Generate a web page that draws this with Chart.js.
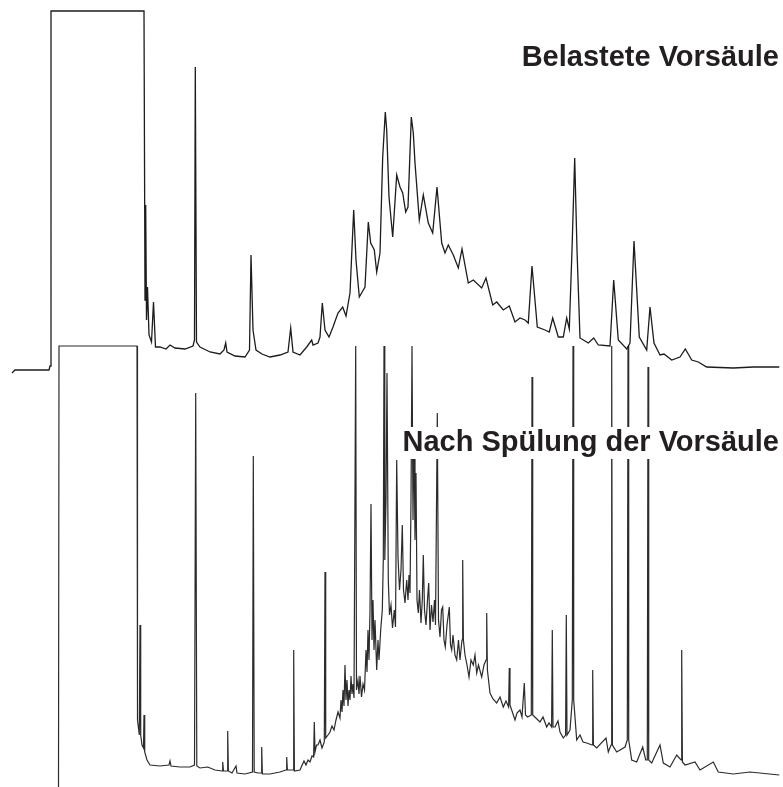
<!DOCTYPE html>
<html>
<head>
<meta charset="utf-8">
<script src="https://cdn.jsdelivr.net/npm/chart.js@4/dist/chart.umd.min.js"></script>
<style>
  html, body { margin: 0; padding: 0; background: #ffffff; }
  #wrap { width: 783px; height: 787px; }
</style>
</head>
<body>
<div id="wrap"><canvas id="c" width="783" height="787"></canvas></div>
<script>
// Retention time (arbitrary units) and detector response (arbitrary units)
const topTime = [12,15,49,50,51,144,145,145.7,146.5,147.5,149,151.5,153.5,155.5,160,166,170,175,185,193,194.5,195.3,196.5,200,210,220,224,225.7,227,235,245,249.5,251,253,256,262,270,280,288,290.7,293,300,306.7,311.7,313,318,320,322.3,325,329,333,338,342.7,346,350,353.7,356,359.3,365,368.3,370.7,374.3,376.7,380,382.7,385.3,386.7,389,392.7,396.7,400,402.7,405.7,408,411.3,413.3,415,419.3,423.3,428.3,432.7,437,441.7,445,448.3,453.3,458.3,462,468.3,473.3,481.7,486,492.7,496.7,503.3,509.3,515,520,525,528.3,532,537.3,545,549.3,552.7,558.3,563.3,566.7,569.3,572,574.7,577,580,588.3,593.7,598.3,610,613.7,618.3,626.7,630,634,639.3,646.7,650,654,660,664,671.7,680,685.3,691.7,698.3,706.7,733.3,753.3,779.3];
const topSignal = [414,417,417,421,776,776,487,582,467,500,452,445,485,440,440,438,442,439,438,441,447,720,445,440,435,433,437,444,435,431,430,437,532,457,437,433,430,432,435,459,435,432,440,447,442,444,450,484,457,450,460,474,480,471,494,577,527,490,500,565,544,537,515,534,630,675,657,590,550,612,600,594,575,580,670,654,624,567,592,564,554,600,544,534,542,532,519,538,504,507,499,509,482,485,477,481,465,469,467,464,521,460,457,455,469,450,450,469,458,537,629,537,449,444,449,442,441,507,447,438,444,546,450,437,480,444,432,433,427,430,438,427,425,420,419,420,420];

const bottomTime = [
  58.5,59,137,137.5,139.3,140,140.7,142,143.5,144,144.7,147,150,160,169,170,171,180,190,194.5,
  195.7,196.8,200,207.7,215,222,222.7,223.5,227,227.7,228.4,232,236,237,245,252.5,253.3,254.2,258,261,
  261.7,262.4,270,280,286,286.7,287.4,293,293.7,294.4,300,304,306,308,310,312,313.6,314.3,315,316.5,
  318,320,322,324.3,325,325.7,328,330,332,334,336,338,340,341,342,343,344,345,346,347,
  348,349,350,351,352,353,354,355.7,356.5,358,359,360,361.5,363,364.5,366,367,368,369,370,
  371,372,373,374,375,376.7,378,379,380.7,382.3,383.3,384,384.8,386,387,388.3,389.5,391,392.5,394.3,
  395.5,396.7,398,399.5,401,402.3,403.5,405,406.7,408,409,410,411,412,413,414,415,416,417,418.3,
  419.5,421,422.3,423.3,424.5,426,427.5,428.7,430,431.5,433,434.5,435.5,437.3,438.5,440,441.5,442.7,444,445.3,
  447,449.3,450.5,451.7,453,455,456.7,458.5,460,462,462.7,463.4,465,467,469,471,473.3,475,476.7,478.5,
  481.7,484,486,486.7,487.4,490,493,496.7,500,503.3,506,508.6,509.3,510,512,515,517,520,522,524.3,
  525.5,527.7,531.3,532,532.7,540,543,546.7,549,551.6,552.3,553,555,558,560,563.3,565.6,566.3,567,570,
  572.3,573,573.7,576.7,580,583,586.7,592,592.7,593.4,596.7,606,608.3,611,611.7,612.4,616.7,625,627.3,628,
  628.7,631.7,636.7,642.7,645.7,647.3,648,648.7,651.7,660,663.3,670,676.7,681,681.7,682.4,685,695,700,713.3,
  718.3,733.3,750,779.3];
const bottomSignal = [
  0,441,441,67,52,162,52,42,39,72,35,27,22,21,22,26,21,20,20,22,
  394,21,19,20,17,16,25,16,16,56,16,14,21,14,13,15,331,15,14,14,
  40,13,13,15,17,30,17,17,137,16,17,26,22,27,25,31,30,65,35,42,
  42,47,39,45,215,49,52,55,61,57,67,75,69,87,75,97,81,122,87,107,
  81,97,87,111,93,103,89,441,97,107,93,111,90,103,97,137,115,157,127,177,
  283,147,187,137,167,117,147,127,157,177,227,441,227,287,414,207,172,182,159,177,
  160,327,230,197,217,262,197,184,207,187,212,194,287,441,267,357,247,314,187,174,
  197,164,187,232,177,162,187,204,157,182,165,187,162,374,167,150,177,180,147,140,
  162,180,142,137,152,132,127,147,127,147,227,147,132,122,110,127,122,132,114,122,
  110,122,127,174,117,94,88,84,90,80,86,80,119,82,76,67,74,77,70,104,
  72,70,72,410,72,65,70,60,64,60,157,60,60,66,55,49,52,172,52,57,
  87,441,87,47,52,45,44,42,117,42,39,49,35,42,441,42,35,40,47,441,
  47,27,25,40,27,27,420,27,24,42,24,20,32,27,137,25,22,25,17,25,
  15,13,15,12];

const labelTexts = ["Belastete Vorsäule", "Nach Spülung der Vorsäule"];
const labelTime = [779, 779];
const labelSignal = [721, 336];

function pts(t, s) { return t.map((v, i) => ({ x: v, y: s[i] })); }

const labelPlugin = {
  id: 'traceLabels',
  afterDatasetsDraw(chart) {
    const ctx = chart.ctx;
    const xs = chart.scales.x, ys = chart.scales.y;
    ctx.save();
    ctx.font = 'bold 29px "Liberation Sans", Arial, sans-serif';
    ctx.textAlign = 'right';
    ctx.textBaseline = 'alphabetic';
    labelTexts.forEach((txt, i) => {
      const px = xs.getPixelForValue(labelTime[i]);
      const py = ys.getPixelForValue(labelSignal[i]);
      const w = ctx.measureText(txt).width;
      ctx.fillStyle = '#ffffff';
      ctx.fillRect(px - w - 3, py - 24, w + 8, 32);
      ctx.fillStyle = '#231f20';
      ctx.fillText(txt, px, py);
    });
    ctx.restore();
  }
};

new Chart(document.getElementById('c'), {
  type: 'line',
  data: {
    datasets: [
      { label: 'Belastete Vorsäule', data: pts(topTime, topSignal), borderColor: '#1c1c1c', borderWidth: 1.3, pointRadius: 0, tension: 0, fill: false },
      { label: 'Nach Spülung der Vorsäule', data: pts(bottomTime, bottomSignal), borderColor: '#2b2b2b', borderWidth: 1.2, pointRadius: 0, tension: 0, fill: false }
    ]
  },
  options: {
    responsive: false,
    animation: false,
    devicePixelRatio: 1,
    layout: { padding: 0 },
    plugins: { legend: { display: false }, tooltip: { enabled: false }, title: { display: false } },
    scales: {
      x: { type: 'linear', min: 0, max: 783, display: false },
      y: { type: 'linear', min: 0, max: 787, display: false }
    },
    elements: { line: { borderJoinStyle: 'miter' } }
  },
  plugins: [labelPlugin]
});
</script>
</body>
</html>
